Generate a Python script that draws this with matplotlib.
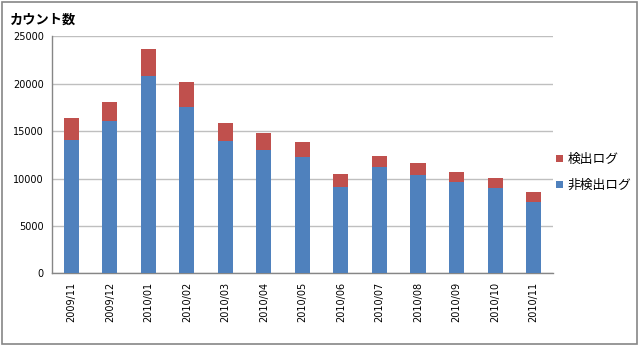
import matplotlib
matplotlib.use('Agg')
import matplotlib.pyplot as plt
from matplotlib.patches import Rectangle, Patch
import numpy as np

plt.rcParams['font.family'] = ['Noto Sans CJK JP', 'DejaVu Sans']

# monthly log counts
months = ['2009/11', '2009/12', '2010/01', '2010/02', '2010/03', '2010/04', '2010/05',
          '2010/06', '2010/07', '2010/08', '2010/09', '2010/10', '2010/11']
not_detected = [14050, 16030, 20800, 17580, 13920, 13040, 12300,
                9070, 11180, 10370, 9660, 9030, 7550]
detected = [2300, 2010, 2900, 2600, 1900, 1730, 1550,
            1400, 1190, 1230, 1060, 990, 990]

blue = '#4F81BD'
red = '#C0504D'

fig = plt.figure(figsize=(6.38, 3.45), dpi=100)
ax = fig.add_axes([0.0815, 0.2078, 0.785, 0.687])

x = np.arange(len(months))
ax.bar(x, not_detected, width=0.39, color=blue, zorder=3)
ax.bar(x, detected, width=0.39, bottom=not_detected, color=red, zorder=3)

ax.set_xlim(-0.5, len(months) - 0.5)
ax.set_ylim(0, 25000)
ax.set_yticks(np.arange(0, 25001, 5000))
ax.set_xticks(x)
ax.set_xticklabels(months, rotation=90, fontsize=7, family='DejaVu Sans')
for lbl in ax.get_yticklabels():
    lbl.set_fontsize(7)
    lbl.set_family('DejaVu Sans')
ax.tick_params(length=0, pad=6, colors='#000000')
ax.yaxis.grid(True, color='#bfbfbf', linewidth=1.0, zorder=0)

for s in ['top', 'right']:
    ax.spines[s].set_visible(False)
for s in ['left', 'bottom']:
    ax.spines[s].set_color('#868686')
    ax.spines[s].set_linewidth(1.0)

fig.text(0.015, 0.942, 'カウント数', fontsize=9.5, fontweight='bold', va='center', ha='left')

handles = [Patch(facecolor=red, label='検出ログ'),
           Patch(facecolor=blue, label='非検出ログ')]
fig.legend(handles=handles, loc='center left', bbox_to_anchor=(0.871, 0.5),
           frameon=False, fontsize=9.2, handlelength=0.55, handleheight=0.55,
           handletextpad=0.4, labelspacing=1.0, borderpad=0, borderaxespad=0)

# outer chart frame
fig.patches.append(Rectangle((1.5 / 638, 1.5 / 345), 635 / 638, 342 / 345,
                             transform=fig.transFigure, fill=False,
                             edgecolor='#868686', linewidth=1.2))

fig.savefig('out.png', dpi=100, facecolor='white')
